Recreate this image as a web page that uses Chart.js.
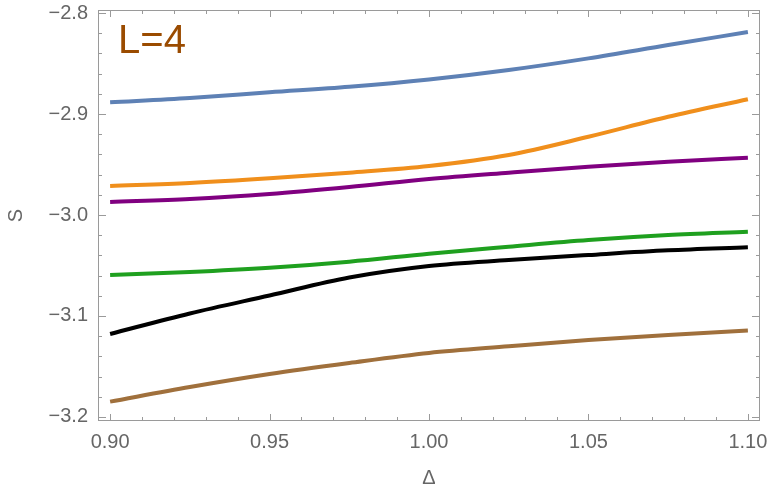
<!DOCTYPE html>
<html>
<head>
<meta charset="utf-8">
<script src="https://cdn.jsdelivr.net/npm/chart.js@4.4.1/dist/chart.umd.min.js"></script>
<style>
  html, body { margin: 0; padding: 0; background: #fff; }
  #wrap { width: 769px; height: 490px; }
</style>
</head>
<body>
<div id="wrap"><canvas id="c" width="769" height="490"></canvas></div>
<script>
// x values (Delta)
const delta = [0.9, 0.925, 0.95, 0.975, 1.0, 1.025, 1.05, 1.075, 1.1];

// S curves
const blue   = [-2.8884, -2.8842, -2.8785, -2.8730, -2.8658, -2.8564, -2.8449, -2.8317, -2.8188];
const orange = [-2.9713, -2.9683, -2.9637, -2.9581, -2.9515, -2.9406, -2.9225, -2.9027, -2.8854];
const purple = [-2.9871, -2.9842, -2.9792, -2.9723, -2.9644, -2.9581, -2.9522, -2.9472, -2.9433];
const green  = [-3.0594, -3.0564, -3.0522, -3.0462, -3.0383, -3.0314, -3.0248, -3.0198, -3.0165];
const black  = [-3.1178, -3.0975, -3.0797, -3.0619, -3.0505, -3.0446, -3.0396, -3.0350, -3.0320];
const brown  = [-3.1848, -3.1703, -3.1574, -3.1465, -3.1366, -3.1300, -3.1238, -3.1188, -3.1145];

const xTicks = [0.90, 0.95, 1.00, 1.05, 1.10];
const yTicks = [-2.8, -2.9, -3.0, -3.1, -3.2];

const series = [
  { name: "s1", values: blue,   color: "#5e81b5" },
  { name: "s2", values: orange, color: "#f08f1c" },
  { name: "s3", values: purple, color: "#800080" },
  { name: "s4", values: green,  color: "#1fa01f" },
  { name: "s5", values: black,  color: "#000000" },
  { name: "s6", values: brown,  color: "#a0703c" }
];

const axisColor = "#9a9a9a";
const labelColor = "#666666";
const labelFont = { family: "'Liberation Sans', Arial, sans-serif", size: 20 };

// mathematica style frame with inward ticks on all four sides
const framePlugin = {
  id: "frame",
  afterDraw(chart) {
    const { ctx, chartArea: a, scales } = chart;
    const xs = scales.x, ys = scales.y;
    ctx.save();
    ctx.strokeStyle = axisColor;
    ctx.lineWidth = 1;
    ctx.strokeRect(a.left + 0.5, a.top + 0.5, a.right - a.left - 1, a.bottom - a.top - 1);

    const tick = (x1, y1, x2, y2) => {
      ctx.beginPath();
      ctx.moveTo(x1, y1);
      ctx.lineTo(x2, y2);
      ctx.stroke();
    };

    // x ticks, minor every 0.01
    for (let i = 90; i <= 110; i++) {
      const v = i / 100;
      const px = Math.round(xs.getPixelForValue(v)) + 0.5;
      const len = i % 5 === 0 ? 7 : 4;
      tick(px, a.bottom, px, a.bottom - len);
      tick(px, a.top, px, a.top + len);
    }
    // y ticks, minor every 0.02
    for (let i = 280; i <= 320; i += 2) {
      const v = -i / 100;
      const py = Math.round(ys.getPixelForValue(v)) + 0.5;
      const len = i % 10 === 0 ? 8 : 4;
      tick(a.left, py, a.left + len, py);
      tick(a.right, py, a.right - len, py);
    }

    // L=4 label
    ctx.fillStyle = "#9a4b00";
    ctx.font = "40px 'Liberation Sans', Arial, sans-serif";
    ctx.textBaseline = "alphabetic";
    ctx.textAlign = "left";
    ctx.fillText("L=4", xs.getPixelForValue(0.9025), ys.getPixelForValue(-2.8396));
    ctx.restore();
  }
};

const ctx = document.getElementById("c").getContext("2d");
new Chart(ctx, {
  type: "line",
  data: {
    datasets: series.map(s => ({
      label: s.name,
      data: delta.map((d, i) => ({ x: d, y: s.values[i] })),
      borderColor: s.color,
      backgroundColor: s.color,
      borderWidth: 4,
      pointRadius: 0,
      fill: false,
      cubicInterpolationMode: "monotone",
      borderCapStyle: "butt"
    }))
  },
  options: {
    responsive: false,
    animation: false,
    layout: { padding: { top: 10, right: 9, left: 0, bottom: 0 } },
    plugins: {
      legend: { display: false },
      tooltip: { enabled: false }
    },
    scales: {
      x: {
        type: "linear",
        min: 0.8962,
        max: 1.1038,
        grid: { display: false, drawTicks: false },
        border: { display: false },
        afterBuildTicks: (s) => { s.ticks = xTicks.map(v => ({ value: v })); },
        afterFit: (s) => {
          s.height = 69;
          s.paddingLeft = 0;
          s.paddingRight = 0;
        },
        ticks: {
          color: labelColor,
          font: labelFont,
          padding: 9,
          maxRotation: 0,
          callback: (v) => Number(v).toFixed(2)
        },
        title: {
          display: true,
          text: "Δ",
          color: labelColor,
          font: labelFont,
          padding: { top: 0, bottom: 0 }
        }
      },
      y: {
        type: "linear",
        min: -3.204,
        max: -2.797,
        grid: { display: false, drawTicks: false },
        border: { display: false },
        afterBuildTicks: (s) => { s.ticks = yTicks.map(v => ({ value: v })); },
        afterFit: (s) => {
          s.width = 98;
          s.paddingTop = 0;
          s.paddingBottom = 0;
        },
        ticks: {
          color: labelColor,
          font: labelFont,
          padding: 10,
          callback: (v) => Number(v).toFixed(1).replace("-", "\u2212")
        },
        title: {
          display: true,
          text: "S",
          color: labelColor,
          font: labelFont,
          padding: { top: 4, bottom: 0 }
        }
      }
    }
  },
  plugins: [framePlugin]
});
</script>
</body>
</html>
